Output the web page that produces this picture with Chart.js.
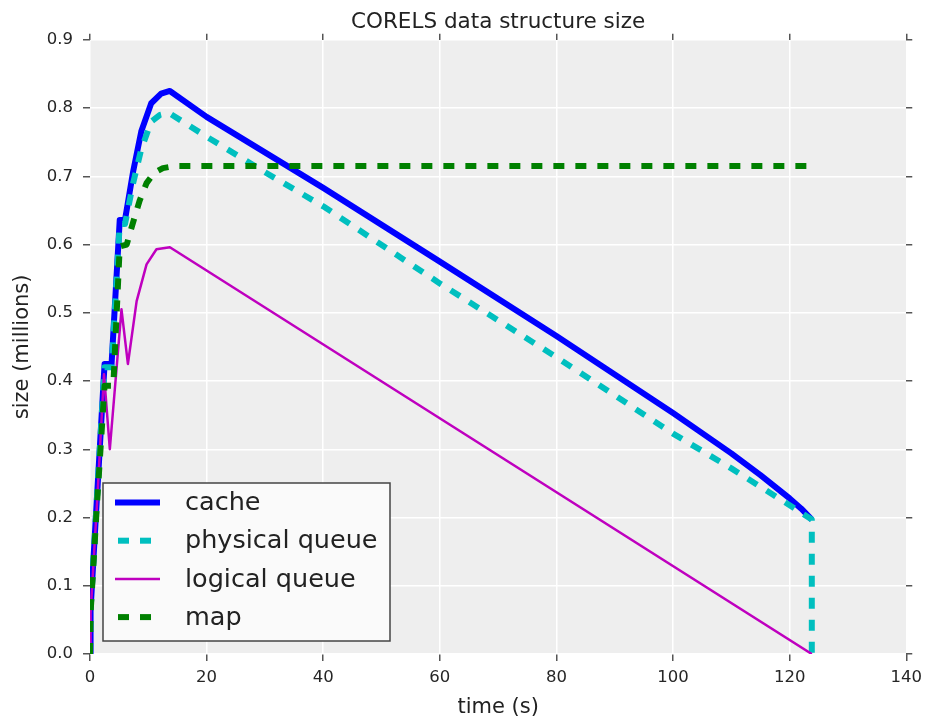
<!DOCTYPE html>
<html>
<head>
<meta charset="utf-8">
<script src="https://cdn.jsdelivr.net/npm/chart.js@4.4.1/dist/chart.umd.min.js"></script>
<style>
body { margin: 0; background: #fff; }
#wrap { width: 929px; height: 721px; }
</style>
</head>
<body>
<div id="wrap"><canvas id="sizeChart" width="929" height="721"></canvas></div>
<script>
// values (time in s, size in millions)
var cacheTime = [0, 0.1, 1.2, 2.5, 3.7, 5.1, 6.0, 7.4, 8.8, 10.5, 12.2, 13.7, 20, 40, 60, 80, 100, 110, 115, 120, 122, 123.8];
var cacheSize = [0, 0.065, 0.23, 0.425, 0.425, 0.636, 0.636, 0.707, 0.766, 0.807, 0.821, 0.825, 0.787, 0.683, 0.575, 0.466, 0.353, 0.294, 0.262, 0.228, 0.213, 0.197];

var physTime = [0, 0.1, 1.2, 2.5, 3.7, 5.1, 6.0, 7.4, 8.8, 10.5, 12.0, 13.5, 20, 30, 40, 60, 80, 100, 110, 120, 123.8, 123.8];
var physSize = [0, 0.065, 0.23, 0.42, 0.42, 0.63, 0.63, 0.69, 0.74, 0.78, 0.79, 0.793, 0.758, 0.706, 0.656, 0.543, 0.435, 0.323, 0.272, 0.218, 0.197, 0];

var logTime = [0, 0.1, 1.2, 2.4, 3.4, 5.4, 6.5, 8.0, 9.7, 11.4, 13.7, 123.8];
var logSize = [0, 0.06, 0.22, 0.41, 0.30, 0.505, 0.425, 0.517, 0.571, 0.593, 0.596, 0];

var mapTime = [0, 0.1, 1.2, 2.5, 4.0, 5.1, 6.3, 7.3, 8.5, 9.7, 11.0, 12.5, 14.5, 124];
var mapSize = [0, 0.06, 0.22, 0.393, 0.393, 0.597, 0.6, 0.63, 0.664, 0.69, 0.705, 0.712, 0.715, 0.715];

var xTicks = [0, 20, 40, 60, 80, 100, 120, 140];
var yTicks = [0, 0.1, 0.2, 0.3, 0.4, 0.5, 0.6, 0.7, 0.8, 0.9];

function pts(t, v) {
    return t.map(function (x, i) { return { x: x, y: v[i] }; });
}

var font = "'DejaVu Sans', sans-serif";
var tickGray = '#555555';

var plotBg = {
    id: 'plotBg',
    beforeDraw: function (chart) {
        var a = chart.chartArea, ctx = chart.ctx;
        ctx.save();
        ctx.fillStyle = '#eeeeee';
        ctx.fillRect(a.left, a.top, a.right - a.left, a.bottom - a.top);
        ctx.restore();
    }
};

// legend box in the lower left of the plot, like matplotlib's loc=3
var legendBox = {
    id: 'legendBox',
    afterDatasetsDraw: function (chart) {
        var a = chart.chartArea, ctx = chart.ctx;
        var x0 = a.left + 13, y0 = a.bottom - 171;
        ctx.save();
        ctx.fillStyle = 'rgba(250,250,250,0.95)';
        ctx.fillRect(x0, y0, 287, 158);
        ctx.strokeStyle = '#444444';
        ctx.lineWidth = 1.5;
        ctx.strokeRect(x0, y0, 287, 158);
        ctx.font = '25.5px ' + font;
        ctx.textBaseline = 'middle';
        chart.data.datasets.forEach(function (ds, i) {
            var y = y0 + 19.5 + i * 38.2;
            ctx.strokeStyle = ds.borderColor;
            ctx.lineWidth = ds.borderWidth;
            ctx.lineCap = 'butt';
            ctx.beginPath();
            if (ds.borderDash) {
                ctx.setLineDash(ds.borderDash);
                ctx.moveTo(x0 + 15, y);
                ctx.lineTo(x0 + 50, y);
            } else {
                ctx.setLineDash([]);
                ctx.moveTo(x0 + 12, y);
                ctx.lineTo(x0 + 57, y);
            }
            ctx.stroke();
            ctx.setLineDash([]);
            ctx.fillStyle = '#222222';
            ctx.fillText(ds.label, x0 + 82, y + 1);
        });
        ctx.restore();
    }
};

var sizeChart = new Chart(document.getElementById('sizeChart').getContext('2d'), {
    type: 'line',
    data: {
        datasets: [{
            label: 'cache',
            data: pts(cacheTime, cacheSize),
            borderColor: '#0000ff',
            borderWidth: 6,
            order: 4
        }, {
            label: 'physical queue',
            data: pts(physTime, physSize),
            borderColor: '#00bfbf',
            borderWidth: 6,
            borderDash: [11, 11],
            order: 3
        }, {
            label: 'logical queue',
            data: pts(logTime, logSize),
            borderColor: '#bf00bf',
            borderWidth: 2.5,
            order: 2
        }, {
            label: 'map',
            data: pts(mapTime, mapSize),
            borderColor: '#008000',
            borderWidth: 6,
            borderDash: [11, 11],
            order: 1
        }]
    },
    options: {
        responsive: false,
        animation: false,
        layout: { padding: 0 },
        elements: {
            point: { radius: 0 },
            line: { tension: 0, borderJoinStyle: 'round', borderCapStyle: 'butt', fill: false }
        },
        plugins: {
            legend: { display: false },
            tooltip: { enabled: false },
            title: {
                display: true,
                fullSize: false,
                text: 'CORELS data structure size',
                color: '#222222',
                font: { family: font, size: 21.5, weight: 'normal' },
                padding: { top: 10, bottom: 0 }
            }
        },
        scales: {
            x: {
                type: 'linear',
                position: 'bottom',
                min: 0,
                max: 140,
                afterBuildTicks: function (s) { s.ticks = xTicks.map(function (v) { return { value: v }; }); },
                afterFit: function (s) { s.height = 67; },
                ticks: {
                    color: '#262626',
                    font: { family: font, size: 16.5 },
                    padding: 7,
                    maxRotation: 0,
                    callback: function (v) { return String(v); }
                },
                grid: { color: '#ffffff', lineWidth: 1.5, tickColor: tickGray, tickLength: 7 },
                border: { display: false },
                title: {
                    display: true,
                    text: 'time (s)',
                    color: '#222222',
                    font: { family: font, size: 21 },
                    padding: { top: 0, bottom: 1 }
                }
            },
            y: {
                type: 'linear',
                position: 'left',
                min: 0,
                max: 0.9,
                afterBuildTicks: function (s) { s.ticks = yTicks.map(function (v) { return { value: v }; }); },
                afterFit: function (s) { s.width = 90; },
                ticks: {
                    color: '#262626',
                    font: { family: font, size: 16.5 },
                    padding: 10,
                    callback: function (v) { return v.toFixed(1); }
                },
                grid: { color: '#ffffff', lineWidth: 1.5, tickColor: tickGray, tickLength: 7 },
                border: { display: false },
                title: {
                    display: true,
                    text: 'size (millions)',
                    color: '#222222',
                    font: { family: font, size: 21 },
                    padding: { top: 10, bottom: 0 }
                }
            },
            x2: {
                type: 'linear',
                position: 'top',
                min: 0,
                max: 140,
                afterBuildTicks: function (s) { s.ticks = xTicks.map(function (v) { return { value: v }; }); },
                afterFit: function (s) { s.height = 4; },
                ticks: { display: false },
                grid: { drawOnChartArea: false, tickColor: tickGray, tickLength: 6, lineWidth: 1.5 },
                border: { display: false }
            },
            y2: {
                type: 'linear',
                position: 'right',
                min: 0,
                max: 0.9,
                afterBuildTicks: function (s) { s.ticks = yTicks.map(function (v) { return { value: v }; }); },
                afterFit: function (s) { s.width = 20; },
                ticks: { display: false },
                grid: { drawOnChartArea: false, tickColor: tickGray, tickLength: 6, lineWidth: 1.5 },
                border: { display: false }
            }
        }
    },
    plugins: [plotBg, legendBox]
});
</script>
</body>
</html>
